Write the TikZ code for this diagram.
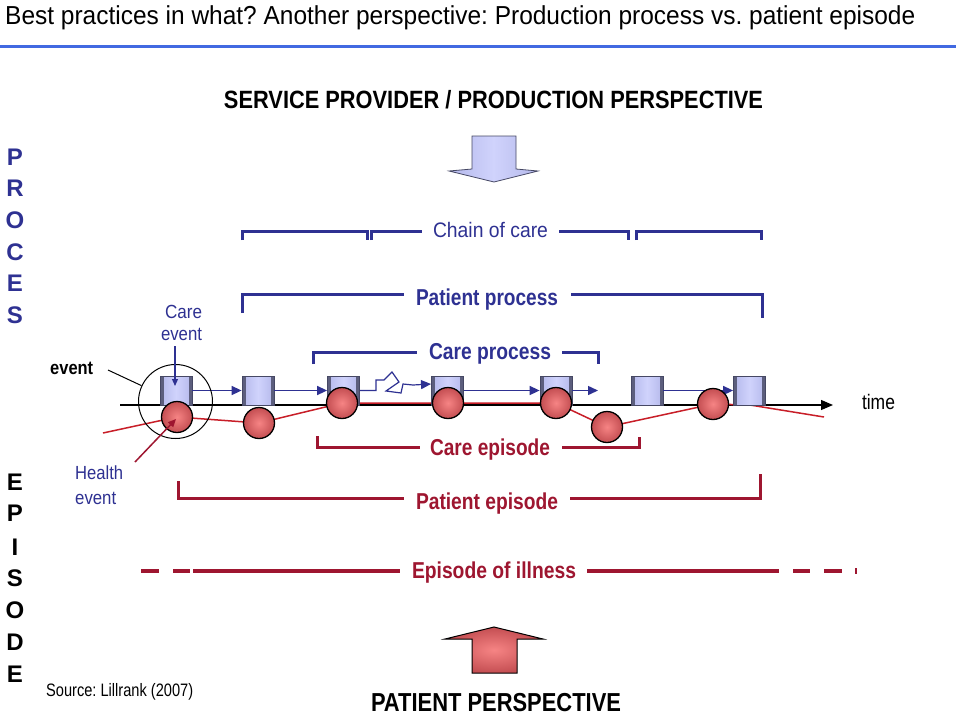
\documentclass[tikz,border=0pt]{standalone}
\usepackage{fontspec}
\setmainfont{Liberation Sans}
\usepackage{graphicx}
\usetikzlibrary{arrows.meta,shadings}
\definecolor{navy}{RGB}{46,49,146}
\definecolor{dred}{RGB}{158,22,48}
\definecolor{lred}{RGB}{200,30,40}
\definecolor{tblue}{RGB}{65,105,225}
\definecolor{boxside}{RGB}{180,184,235}
\definecolor{boxmid}{RGB}{208,211,252}
\definecolor{boxedge}{RGB}{70,72,100}
\definecolor{stripcol}{RGB}{92,94,125}
\definecolor{ballin}{RGB}{246,132,132}
\definecolor{ballout}{RGB}{196,78,82}
\newcommand{\fw}[2]{\resizebox{#1}{\height}{#2}}
\frenchspacing
\begin{document}
\begin{tikzpicture}[x=1pt,y=-1pt,
  txt/.style={inner sep=0pt, anchor=base},
  boldlab/.style={txt, font=\fontsize{23}{25}\selectfont\bfseries},
  bracketb/.style={draw=navy, line width=3pt},
  bracketr/.style={draw=dred, line width=3pt},
  carebox/.style={minimum width=32pt, minimum height=29pt, inner sep=0pt,
    draw=boxedge, line width=0.8pt, shading=axis,
    left color=boxside, right color=boxside, middle color=boxmid,
    path picture={
      \fill[stripcol] (path picture bounding box.south west) rectangle ([xshift=3.5pt]path picture bounding box.north west);
      \fill[stripcol] (path picture bounding box.south east) rectangle ([xshift=-3.5pt]path picture bounding box.north east);
    }},
  healthball/.style={circle, minimum size=31pt, inner sep=0pt, draw=black, line width=1.3pt,
    shading=radial, inner color=ballin, outer color=ballout},
  bluearr/.style={draw=navy, line width=1.5pt, -{Triangle[length=10pt,width=9pt]}},
]
\useasboundingbox (0,0) rectangle (960,715);
\fill[white] (0,0) rectangle (960,715);

% title
\node[txt, anchor=base west, font=\fontsize{26}{28}\selectfont] (title) at (5,24)
  {\fw{910pt}{Best practices in what? Another perspective: Production process vs. patient episode}};
\draw[tblue, line width=3pt] (0,46) -- (956,46);

\node[txt, font=\fontsize{25}{27}\selectfont\bfseries] (spp) at (493.5,108)
  {\fw{539pt}{SERVICE PROVIDER / PRODUCTION PERSPECTIVE}};

% side letters
\foreach \l/\y [count=\i] in {P/157,R/188,O/220,C/252,E/283,S/315}
  \node[txt, font=\fontsize{24}{26}\selectfont\bfseries, text=navy] (pl\i) at (15,\y+8.5) {\l};
\foreach \l/\y [count=\i] in {E/482,P/513,I/547,S/578,O/610,D/642,E/674}
  \node[txt, font=\fontsize{24}{26}\selectfont\bfseries] (el\i) at (15,\y+8.5) {\l};

% down arrow
\draw[boxedge, line width=0.8pt, shading=axis, left color=boxside, right color=boxside, middle color=boxmid]
  (472,136) -- (516,136) -- (516,169) -- (538,171) -- (494,182) -- (449,171) -- (472,169) -- cycle;
% up arrow
\draw[black, line width=1pt, shading=radial, inner color=ballin, outer color=ballout]
  (494,627) -- (543,639) -- (517,639) -- (517,673) -- (472,673) -- (472,639) -- (445,639) -- cycle;
\node[txt, font=\fontsize{26}{28}\selectfont\bfseries] (pp) at (496,711)
  {\fw{250pt}{PATIENT PERSPECTIVE}};
\node[txt, anchor=base west, font=\fontsize{18}{20}\selectfont] (src) at (46,696)
  {\fw{147pt}{Source: Lillrank (2007)}};

% chain of care
\node[txt, font=\fontsize{21}{23}\selectfont, text=navy] (chain) at (490.5,237) {\fw{115pt}{Chain of care}};
\draw[bracketb] (242,240) -- (242,231) -- (367,231) -- (367,240);
\draw[bracketb] (371,240) -- (371,231) -- (422,231);
\draw[bracketb] (559,231) -- (628,231) -- (628,240);
\draw[bracketb] (636,240) -- (636,231) -- (761,231) -- (761,240);

% patient process
\node[boldlab, text=navy] (pproc) at (487,305) {\fw{142pt}{Patient process}};
\draw[bracketb] (242,313) -- (242,294) -- (404,294);
\draw[bracketb] (571,294) -- (762,294) -- (762,318);

% care process
\node[boldlab, text=navy] (cproc) at (490,359) {\fw{122pt}{Care process}};
\draw[bracketb] (313,364) -- (313,352) -- (417,352);
\draw[bracketb] (562,352) -- (598,352) -- (598,364);

% care episode
\node[boldlab, text=dred] (cepi) at (490,455) {\fw{120pt}{Care episode}};
\draw[bracketr] (317,436) -- (317,447) -- (420,447);
\draw[bracketr] (562,447) -- (639,447) -- (639,437);

% patient episode
\node[boldlab, text=dred] (pepi) at (487,509) {\fw{142pt}{Patient episode}};
\draw[bracketr] (178,481) -- (178,498) -- (404,498);
\draw[bracketr] (570,498) -- (760,498) -- (760,474);

% episode of illness
\node[boldlab, text=dred] (ill) at (494,578) {\fw{164pt}{Episode of illness}};
\begin{scope}[dred, line width=4pt]
  \draw (141,571) -- (159,571);
  \draw (173,571) -- (190,571);
  \draw (193,571) -- (400,571);
  \draw (587,571) -- (779,571);
  \draw (793,571) -- (810,571);
  \draw (824,571) -- (842,571);
  \draw[line width=2pt] (855.5,568) -- (855.5,574);
\end{scope}

% timeline
\coordinate (tl0) at (120,405);
\coordinate (tl1) at (833,405);
\draw[line width=1.2pt, -{Triangle[length=12pt,width=10pt]}] (tl0) -- (tl1);
\node[txt, font=\fontsize{21}{23}\selectfont] (time) at (878.5,409) {\fw{33pt}{time}};

% health trajectory
\coordinate (r0) at (103,433);
\coordinate (c1) at (177,417);
\coordinate (c2) at (259,423);
\coordinate (c3) at (342,403);
\coordinate (c4) at (448,403);
\coordinate (c5) at (556,403);
\coordinate (c6) at (607,427);
\coordinate (c7) at (713,404);
\coordinate (r8) at (750,405);
\coordinate (r9) at (824,417);
\draw[lred, line width=1.5pt] (r0) -- (c1) -- (c2) -- (c3) -- (c4) -- (c5) -- (c6) -- (c7) -- (r8) -- (r9);

% care boxes
\foreach \x [count=\i] in {176,258,343.5,447.5,556,647,749.5}
  \node[carebox] (b\i) at (\x,390.5) {};

% blue arrows
\draw[bluearr] (b1.east) -- (b2.west);
\draw[bluearr] (b2.east) -- (b3.west);
\coordinate (zz) at (431,384);
\draw[bluearr, line width=1.2pt] (b3.east) -- (376,390.5) -- (376,380) -- (384,380) -- (392,372) -- (399,382) -- (386,391) -- (401,393) -- (403,384) -- (413,385) -- (zz);
\draw[bluearr] (b4.east) -- (b5.west);
\coordinate (b5end) at (598,390.5);
\draw[bluearr] (b5.east) -- (b5end);
\draw[bluearr] (b6.east) -- (b7.west);

% spheres
\foreach \i in {1,...,7}
  \node[healthball] (s\i) at (c\i) {};

% care event / health event / event
\node[draw, circle, minimum size=74pt, line width=1pt, inner sep=0pt] (ring) at (175.5,401.5) {};
\node[txt, font=\fontsize{19}{21}\selectfont, text=navy] (ce1) at (183.5,318) {\fw{37pt}{Care}};
\node[txt, font=\fontsize{19}{21}\selectfont, text=navy] (ce2) at (181.5,340) {\fw{41pt}{event}};
\coordinate (cea) at (175,346);
\coordinate (ceb) at (175,386);
\draw[draw=navy, line width=1.2pt, -{Triangle[length=7pt,width=6pt]}] (cea) -- (ceb);

\node[txt, anchor=base west, font=\fontsize{19}{21}\selectfont\bfseries] (evt) at (50,374) {\fw{43pt}{event}};
\coordinate (evl) at (108,370);
\draw[line width=1pt] (evl) -- (ring);

\node[txt, anchor=base west, font=\fontsize{19}{21}\selectfont, text=navy] (he1) at (75,479) {\fw{48pt}{Health}};
\node[txt, anchor=base west, font=\fontsize{19}{21}\selectfont, text=navy] (he2) at (75,504) {\fw{41pt}{event}};
\coordinate (hea) at (135,462);
\coordinate (heb) at (176,419);
\draw[draw=dred, line width=1.5pt, -{Triangle[length=8pt,width=7pt]}] (hea) -- (heb);
\end{tikzpicture}
\end{document}
